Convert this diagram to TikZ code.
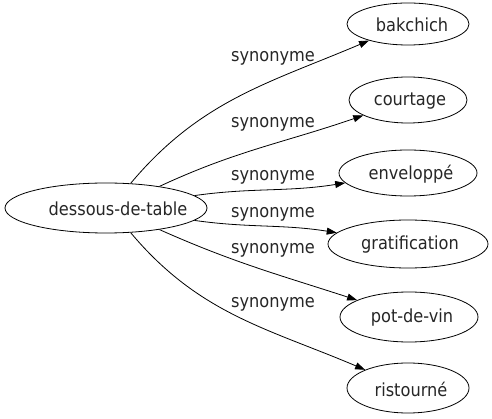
\documentclass[tikz,border=0pt]{standalone}
\usepackage{fontspec}
\setmainfont[FakeStretch=0.9]{DejaVu Sans}
\usetikzlibrary{arrows.meta,shapes.geometric}
\tikzset{
  word/.style={draw, ellipse, inner sep=0pt, line width=0.8pt},
  txt/.style={font=\fontsize{18}{20}\selectfont, inner sep=0pt, text=black!85},
  rel/.style={-{Triangle[length=10pt,width=7pt]}, line width=0.8pt},
  lbl/.style={font=\fontsize{18}{20}\selectfont, inner sep=0pt, text=black!85}
}
\begin{document}
\begin{tikzpicture}[x=1pt,y=-1pt]
\useasboundingbox (0,0) rectangle (492,419);
\node[word, minimum width=202pt, minimum height=50pt] (s) at (106,208) {};
\node[word, minimum width=122pt, minimum height=42pt] (b) at (408,24) {};
\node[word, minimum width=118pt, minimum height=46pt] (c) at (408,100) {};
\node[word, minimum width=138pt, minimum height=46pt] (e) at (408,173) {};
\node[word, minimum width=160pt, minimum height=48pt] (g) at (408,244) {};
\node[word, minimum width=138pt, minimum height=50pt] (p) at (409,317) {};
\node[word, minimum width=122pt, minimum height=50pt] (r) at (408,388) {};
\node[txt] (st) at (118,209) {dessous-de-table};
\node[txt] (bt) at (412,25) {bakchich};
\node[txt] (ct) at (410,101) {courtage};
\node[txt] (et) at (411,174) {enveloppé};
\node[txt] (gt) at (410,245) {gratification};
\node[txt] (pt) at (412,318) {pot-de-vin};
\node[txt] (rt) at (411,389) {ristourné};
\node[lbl] (t1) at (273,58) {synonyme};
\node[lbl] (t2) at (273,124) {synonyme};
\node[lbl] (t3) at (273,177) {synonyme};
\node[lbl] (t4) at (273,214) {synonyme};
\node[lbl] (t5) at (273,250) {synonyme};
\node[lbl] (t6) at (273,304) {synonyme};
\draw[rel] (s.45) to[out=50,in=203] (b);
\draw[rel] (s.22) to[out=25,in=199] (c);
\draw[rel] (s.8) to[out=8,in=189] (e);
\draw[rel] (s.-8) to[out=-8,in=171] (g);
\draw[rel] (s.-22) to[out=-24,in=162] (p);
\draw[rel] (s.-45) to[out=-50,in=157] (r);
\end{tikzpicture}
\end{document}
